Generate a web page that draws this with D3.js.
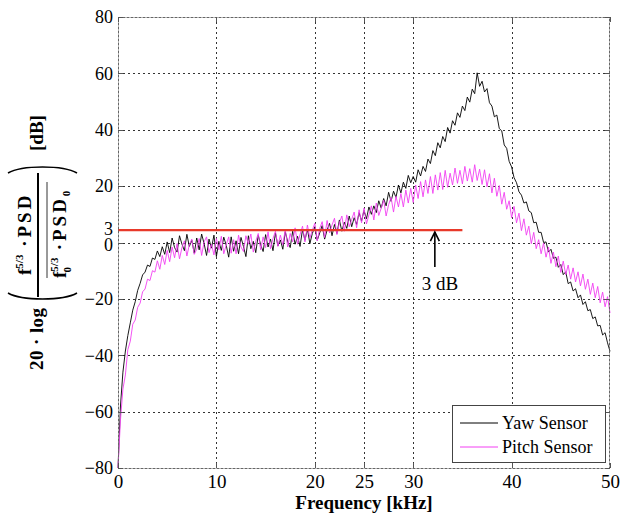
<!DOCTYPE html>
<html>
<head>
<meta charset="utf-8">
<script src="https://cdn.jsdelivr.net/npm/d3@7"></script>
<style>
  html, body { margin: 0; padding: 0; background: #fff; }
  svg { display: block; }
  svg text { font-family: 'Liberation Serif', 'DejaVu Serif', 'Noto Serif', serif; }
</style>
</head>
<body>
<svg id="chart" width="621" height="516"></svg>
<script>
// ---------------- data ----------------
const xTicks = [0, 10, 20, 25, 30, 40, 50];
const yTicks = [-80, -60, -40, -20, 0, 20, 40, 60, 80];
const refLevel = 4.4;          // position of the red reference line
const refLabel = "3";          // its axis label
const refEndFreq = 35;         // red line runs from 0 to this frequency (kHz)
const arrowFreq = 32.2;        // "3 dB" annotation arrow position (kHz)
const freqStep = 0.25;         // kHz between samples
const seriesNames = ["Yaw Sensor", "Pitch Sensor"];

// Yaw sensor, one row per kHz (k, k+.25, k+.5, k+.75), last value = 50 kHz
const yaw = [
  -80, -58, -46, -38.5,
  -33, -28.5, -24, -21,
  -17, -14.5, -11.5, -10.5,
  -8, -8.5, -5.5, -6,
  -3, -5, -1.5, -4.2,
  0.2, -3.6, 1.6, -1.8,
  -3.4, 2.4, -0.6, -2.9,
  2.9, -1.4, 0.8, -3.8,
  1.6, -2.6, 3.0, -0.4,
  -4.6, 1.2, -2.0, 2.6,
  -5.0, 0.4, -2.8, 1.9,
  -1.0, -5.2, 2.0, -3.1,
  0.6, -4.0, 1.8, -1.4,
  -5.0, 2.4, -2.2, 0.4,
  -3.6, 2.6, -0.8, -3.2,
  2.8, -1.6, 1.2, -2.9,
  3.4, -1.2, 0.9, -2.4,
  3.8, 0.2, -1.8, 4.0,
  -0.6, 2.2, -1.4, 4.6,
  0.8, 4.8, -0.4, 3.2,
  5.6, 0.8, 3.4, 6.0,
  1.2, 4.4, 6.8, 2.4,
  6.4, 3.2, 8.0, 4.0,
  7.2, 5.0, 9.4, 5.6,
  8.8, 6.4, 10.6, 7.6,
  11.4, 8.4, 12.6, 10.0,
  13.0, 10.6, 14.8, 12.2,
  15.6, 13.0, 17.8, 14.6,
  18.2, 16.0, 20.4, 17.6,
  21.4, 19.2, 23.8, 21.2,
  23.4, 21.4, 25.8, 23.6,
  27.0, 25.2, 29.6, 28.0,
  32.6, 30.8, 35.4, 33.6,
  37.6, 35.8, 40.8, 38.8,
  43.2, 41.6, 46.0, 44.4,
  48.4, 46.8, 51.6, 49.8,
  54.4, 52.8, 60.2, 55.4,
  57.2, 53.4, 54.6, 49.6,
  48.4, 44.6, 45.2, 40.4,
  39.6, 34.6, 33.4, 28.8,
  26.8, 23.0, 21.2, 18.0,
  16.8, 14.0, 14.4, 11.2,
  10.6, 7.0, 7.2, 3.6,
  3.6, 0.0, 0.2, -3.4,
  -2.4, -5.6, -5.2, -8.8,
  -7.8, -11.4, -10.4, -14.6,
  -14.0, -17.2, -16.4, -19.6,
  -18.6, -22.0, -21.0, -24.2,
  -23.8, -27.0, -26.4, -29.6,
  -29.4, -32.8, -32.0, -35.6,
  -38.6
];

// Pitch sensor, same layout
const pitch = [
  -80, -63, -52, -47,
  -38, -35, -29, -27.5,
  -23, -21.5, -17.5, -16.5,
  -13, -13.5, -10, -10.5,
  -6.5, -9.5, -4.6, -7.8,
  -2.8, -6.8, -1.6, -5.4,
  -0.4, -5.8, -1.8, 0.6,
  -4.8, -0.8, 1.2, -4.2,
  -2.4, 1.4, -4.6, 0.2,
  2.0, -3.6, -0.6, -4.4,
  1.4, -2.6, 2.2, -4.0,
  -0.8, 2.0, -3.8, 1.0,
  -4.0, 2.6, -1.6, -3.2,
  2.4, -0.6, 3.0, -3.4,
  0.4, 3.2, -2.6, 2.0,
  -1.8, 3.8, -2.2, 1.4,
  4.0, -1.4, 2.6, -0.8,
  4.6, -1.6, 3.2, 0.2,
  5.2, -0.6, 2.8, 5.8,
  0.2, 6.2, 1.6, 4.4,
  6.8, 0.6, 5.0, 7.4,
  1.8, 7.8, 3.4, 6.2,
  8.6, 2.8, 7.0, 9.4,
  4.0, 9.8, 5.6, 8.2,
  10.8, 5.2, 11.6, 7.0,
  12.2, 6.6, 9.8, 13.0,
  8.0, 14.0, 9.6, 12.2,
  15.0, 9.4, 13.4, 16.0,
  10.8, 16.4, 12.6, 17.4,
  12.6, 18.6, 14.0, 19.2,
  14.2, 20.4, 15.6, 21.6,
  16.2, 22.2, 17.4, 23.4,
  17.4, 24.0, 18.6, 24.8,
  18.8, 25.6, 19.6, 24.6,
  20.4, 26.4, 21.0, 25.6,
  20.8, 27.0, 21.8, 26.2,
  21.4, 27.6, 22.0, 26.0,
  20.6, 25.8, 19.8, 24.4,
  17.6, 22.8, 16.4, 20.2,
  13.6, 17.8, 11.8, 14.8,
  8.8, 12.8, 7.0, 10.4,
  4.2, 8.4, 2.6, 5.8,
  -0.4, 3.6, -2.2, 1.0,
  -4.0, -0.2, -5.2, -1.6,
  -7.4, -3.4, -8.6, -4.8,
  -10.6, -6.6, -11.4, -8.0,
  -13.0, -9.0, -14.0, -10.4,
  -15.4, -11.2, -16.6, -13.0,
  -18.4, -14.4, -19.6, -15.6,
  -21.4, -17.6, -22.8, -19.2,
  -25.0
];

// ---------------- drawing ----------------
const FONT = "'Liberation Serif', 'DejaVu Serif', 'Noto Serif', serif";
const svg = d3.select("#chart").attr("font-family", FONT);
const L = 118, R = 610, T = 17, B = 468;
const x = d3.scaleLinear().domain([0, 50]).range([L, R]);
const y = d3.scaleLinear().domain([-80, 80]).range([B, T]);

// grid
const grid = svg.append("g");
grid.selectAll("line.vx").data(xTicks.filter(d => d > 0 && d < 50)).join("line")
  .attr("x1", d => Math.round(x(d)) + 0.5).attr("x2", d => Math.round(x(d)) + 0.5)
  .attr("y1", T).attr("y2", B)
  .attr("stroke", "#333").attr("stroke-width", 1).attr("stroke-dasharray", "2,3");
grid.selectAll("line.hy").data(yTicks.filter(d => d > -80 && d < 80)).join("line")
  .attr("y1", d => Math.round(y(d)) + 0.5).attr("y2", d => Math.round(y(d)) + 0.5)
  .attr("x1", L).attr("x2", R)
  .attr("stroke", "#333").attr("stroke-width", 1).attr("stroke-dasharray", "2,3");

// series
const toPts = arr => arr.map((v, i) => [i * freqStep, v]);
const line = d3.line().x(d => x(d[0])).y(d => y(d[1]));
svg.append("path").datum(toPts(yaw)).attr("d", line)
  .attr("fill", "none").attr("stroke", "#000").attr("stroke-width", 0.9)
  .attr("stroke-linejoin", "round");
svg.append("path").datum(toPts(pitch)).attr("d", line)
  .attr("fill", "none").attr("stroke", "#f23ff2").attr("stroke-width", 0.9)
  .attr("stroke-linejoin", "round");

// red reference line
svg.append("line")
  .attr("x1", x(0)).attr("x2", x(refEndFreq))
  .attr("y1", y(refLevel)).attr("y2", y(refLevel))
  .attr("stroke", "#e8392a").attr("stroke-width", 2.2);

// arrow + 3 dB label
const ax = x(arrowFreq);
const arrowTop = y(refLevel) + 2;
svg.append("line").attr("x1", ax).attr("x2", ax)
  .attr("y1", arrowTop).attr("y2", arrowTop + 35)
  .attr("stroke", "#000").attr("stroke-width", 1.6);
svg.append("path")
  .attr("d", `M${ax - 4.5},${arrowTop + 9} L${ax},${arrowTop} L${ax + 4.5},${arrowTop + 9}`)
  .attr("fill", "none").attr("stroke", "#000").attr("stroke-width", 1.6);
svg.append("text").attr("x", ax + 5).attr("y", arrowTop + 58)
  .attr("text-anchor", "middle").attr("font-size", 19).text("3 dB");

// axes box
svg.append("rect").attr("x", L + 0.5).attr("y", T + 0.5)
  .attr("width", R - L - 1).attr("height", B - T)
  .attr("fill", "none").attr("stroke", "#666").attr("stroke-width", 1)
  .attr("stroke-dasharray", "3,1");

// axis tick labels via d3 axes
const xAxis = d3.axisBottom(x).tickValues(xTicks).tickSize(0).tickPadding(7)
  .tickFormat(d3.format("d"));
const gx = svg.append("g").attr("transform", `translate(0,${B})`).call(xAxis)
  .attr("font-family", FONT);
gx.select(".domain").remove();
gx.selectAll("text").attr("font-size", 19).attr("fill", "#000");

const yTickVals = yTicks.concat([refLevel]);
const yAxis = d3.axisLeft(y).tickValues(yTickVals).tickSize(0).tickPadding(5)
  .tickFormat(d => d === refLevel ? refLabel : (d < 0 ? "\u2212" + Math.abs(d) : String(d)));
const gy = svg.append("g").attr("transform", `translate(${L},0)`).call(yAxis)
  .attr("font-family", FONT);
gy.select(".domain").remove();
gy.selectAll("text").attr("font-size", 18).attr("fill", "#000");
gy.selectAll(".tick").filter(d => d === refLevel).select("text").attr("dy", "0.22em");
gy.selectAll(".tick").filter(d => d === 0).select("text").attr("dy", "0.42em");

// inward tick marks
const tk = svg.append("g").attr("stroke", "#555").attr("stroke-width", 1);
xTicks.forEach(d => {
  const px = Math.round(x(d)) + 0.5;
  tk.append("line").attr("x1", px).attr("x2", px).attr("y1", B).attr("y2", B - 5);
  tk.append("line").attr("x1", px).attr("x2", px).attr("y1", T).attr("y2", T + 5);
});
yTicks.forEach(d => {
  const py = Math.round(y(d)) + 0.5;
  tk.append("line").attr("x1", L).attr("x2", L + 5).attr("y1", py).attr("y2", py);
  tk.append("line").attr("x1", R).attr("x2", R - 5).attr("y1", py).attr("y2", py);
});

// x-axis title
svg.append("text").attr("x", 364).attr("y", 509).attr("text-anchor", "middle")
  .attr("font-size", 19).attr("font-weight", "bold").text("Frequency [kHz]");

// y-axis title (rotated, built in local coords)
const yl = svg.append("g").attr("transform", "translate(0,240) rotate(-90)")
  .attr("font-weight", "bold").attr("fill", "#000");
yl.append("text").attr("x", -99).attr("y", 43).attr("text-anchor", "middle")
  .attr("font-size", 19).attr("textLength", 62).attr("lengthAdjust", "spacing")
  .text("20 \u00b7 log");
yl.append("text").attr("x", 107).attr("y", 43).attr("text-anchor", "middle")
  .attr("font-size", 19).text("[dB]");
// parentheses
yl.append("path").attr("d", "M-53,8 C-61,22 -61,63 -53,77")
  .attr("fill", "none").attr("stroke", "#000").attr("stroke-width", 1.6);
yl.append("path").attr("d", "M67,8 C75,22 75,63 67,77")
  .attr("fill", "none").attr("stroke", "#000").attr("stroke-width", 1.6);
// fraction bar + overline
yl.append("line").attr("x1", -57).attr("x2", 67).attr("y1", 38).attr("y2", 38)
  .attr("stroke", "#000").attr("stroke-width", 2);
yl.append("line").attr("x1", -38).attr("x2", 58).attr("y1", 47).attr("y2", 47)
  .attr("stroke", "#000").attr("stroke-width", 0.8);
// numerator
const num = yl.append("text").attr("x", -35).attr("y", 31).attr("font-size", 19);
num.append("tspan").text("f");
num.append("tspan").attr("font-size", 11).attr("dy", -8).text("5/3");
num.append("tspan").attr("dy", 8).attr("letter-spacing", 3).text(" \u00b7PSD");
// denominator
const den = yl.append("text").attr("x", -38).attr("y", 66).attr("font-size", 19);
den.append("tspan").text("f");
den.append("tspan").attr("font-size", 11).attr("dy", -8).text("5/3");
den.append("tspan").attr("font-size", 11).attr("dx", -15).attr("dy", 13).text("0");
den.append("tspan").attr("dx", 9).attr("dy", -5).attr("letter-spacing", 3).text(" \u00b7PSD");
den.append("tspan").attr("font-size", 11).attr("dy", 4).text("0");

// legend
const lg = svg.append("g");
lg.append("rect").attr("x", 452.5).attr("y", 405.5).attr("width", 153).attr("height", 57)
  .attr("fill", "#fff").attr("stroke", "#444").attr("stroke-width", 1);
const lgColors = ["#000", "#f23ff2"];
seriesNames.forEach((name, i) => {
  const ly = 423 + i * 24;
  lg.append("line").attr("x1", 460).attr("x2", 498).attr("y1", ly).attr("y2", ly)
    .attr("stroke", lgColors[i]).attr("stroke-width", 1);
  lg.append("text").attr("x", 502).attr("y", ly + 6).attr("font-size", 18).text(name);
});
</script>
</body>
</html>
